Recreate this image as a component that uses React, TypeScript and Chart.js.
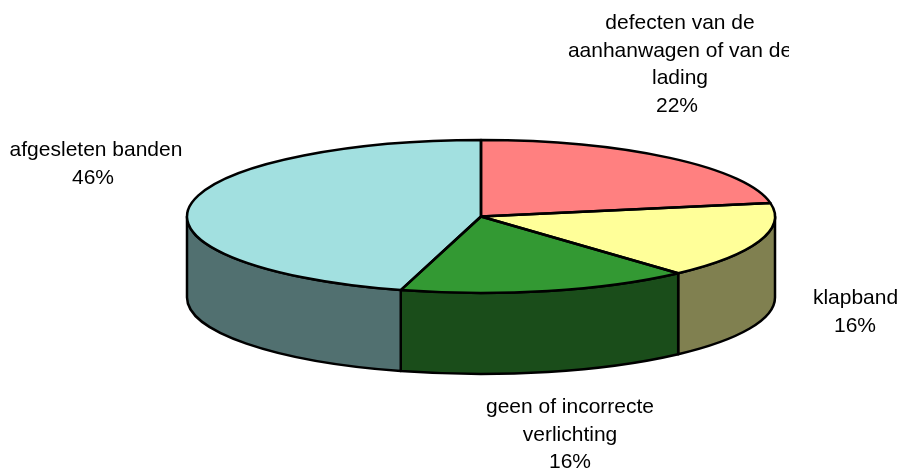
import React, { useEffect, useRef } from "react";
import { Chart, registerables } from "chart.js";

Chart.register(...registerables);

const categories = [
  ["defecten van de", "aanhanwagen of van de", "lading"],
  ["klapband"],
  ["geen of incorrecte", "verlichting"],
  ["afgesleten banden"],
];
const values = [22.2, 16.1, 16.1, 45.6];
const topColors = ["#FF8080", "#FFFF99", "#339933", "#A2E0E0"];
const wallColors = ["#804040", "#808050", "#1A4D1A", "#517070"];

// Label placement: centre x, percent centre x, first baseline y, clip right edge
const labelCentres = [680, 855.5, 570, 96];
const percentCentres = [677, 855, 570, 93];
const labelBaselines = [29, 304, 413, 156];
const labelClips = [789, 901, 655, 901];

const CX = 481;
const CY = 216.5;
const RX = 294;
const RY = 76.5;
const DEPTH = 81;
const LINE_H = 27.7;
const LINE_W = 2.5;
const FONT = '21px "Liberation Sans", Arial, sans-serif';

const pie3d = {
  id: "pie3d",
  beforeDatasetsDraw(chart: any) {
    const ctx = chart.ctx;
    const arcs = chart.getDatasetMeta(0).data;
    ctx.save();
    ctx.lineWidth = LINE_W;
    ctx.strokeStyle = "#000";
    ctx.lineJoin = "round";
    arcs.forEach((a: any, i: number) => {
      const s = Math.max(a.startAngle, 0);
      const e = Math.min(a.endAngle, Math.PI);
      if (e <= s) return;
      ctx.beginPath();
      ctx.ellipse(CX, CY, RX, RY, 0, s, e);
      ctx.lineTo(CX + RX * Math.cos(e), CY + RY * Math.sin(e) + DEPTH);
      ctx.ellipse(CX, CY + DEPTH, RX, RY, 0, e, s, true);
      ctx.closePath();
      ctx.fillStyle = wallColors[i];
      ctx.fill();
      ctx.stroke();
    });
    ctx.restore();
  },
  beforeDatasetDraw(chart: any) {
    const ctx = chart.ctx;
    const a = chart.getDatasetMeta(0).data[0];
    const R = a.outerRadius;
    ctx.save();
    ctx.translate(CX, CY);
    ctx.scale(RX / R, RY / R);
    ctx.translate(-a.x, -a.y);
  },
  afterDatasetDraw(chart: any) {
    const ctx = chart.ctx;
    ctx.restore();
    const arcs = chart.getDatasetMeta(0).data;
    ctx.save();
    ctx.lineWidth = LINE_W;
    ctx.strokeStyle = "#000";
    ctx.lineJoin = "round";
    arcs.forEach((a: any) => {
      ctx.beginPath();
      ctx.moveTo(CX, CY);
      ctx.ellipse(CX, CY, RX, RY, 0, a.startAngle, a.endAngle);
      ctx.closePath();
      ctx.stroke();
    });
    ctx.restore();
  },
  afterDraw(chart: any) {
    const ctx = chart.ctx;
    ctx.save();
    ctx.font = FONT;
    ctx.fillStyle = "#000";
    ctx.textAlign = "center";
    ctx.textBaseline = "alphabetic";
    categories.forEach((lines, i) => {
      ctx.save();
      ctx.beginPath();
      ctx.rect(0, 0, labelClips[i], 470);
      ctx.clip();
      lines.forEach((t, r) => {
        ctx.fillText(t, labelCentres[i], Math.round(labelBaselines[i] + r * LINE_H));
      });
      ctx.fillText(
        Math.round(values[i]) + "%",
        percentCentres[i],
        Math.round(labelBaselines[i] + lines.length * LINE_H)
      );
      ctx.restore();
    });
    ctx.restore();
  },
};

export default function App() {
  const ref = useRef<HTMLCanvasElement>(null);
  useEffect(() => {
    document.body.style.margin = "0";
    const chart = new Chart(ref.current as HTMLCanvasElement, {
      type: "pie",
      data: {
        labels: categories.map((l) => l.join(" ")),
        datasets: [{ data: values, backgroundColor: topColors, borderWidth: 0 }],
      },
      options: {
        responsive: false,
        animation: false,
        rotation: 0,
        plugins: { legend: { display: false }, tooltip: { enabled: false } },
      },
      plugins: [pie3d],
    } as any);
    return () => chart.destroy();
  }, []);
  return (
    <canvas
      ref={ref}
      width={901}
      height={470}
      style={{ display: "block", width: 901, height: 470 }}
    />
  );
}
